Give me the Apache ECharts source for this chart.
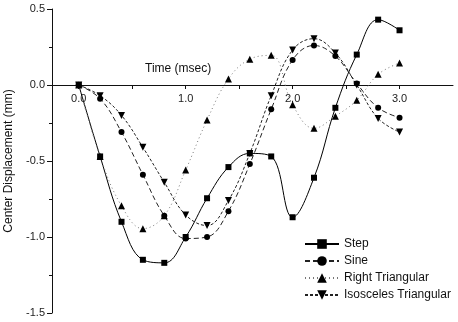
<!DOCTYPE html>
<html><head><meta charset="utf-8">
<script src="https://cdn.jsdelivr.net/npm/echarts@6/dist/echarts.min.js"></script>
<style>html,body{margin:0;padding:0;background:#fff}#c{width:458px;height:322px}</style>
</head><body><div id="c"></div>
<script>
const times = [0.0, 0.2, 0.4, 0.6, 0.8, 1.0, 1.2, 1.4, 1.6, 1.8, 2.0, 2.2, 2.4, 2.6, 2.8, 3.0];
const stepVals = [0, -0.47, -0.90, -1.15, -1.17, -1.0, -0.745, -0.54, -0.45, -0.47, -0.87, -0.61, -0.15, 0.20, 0.43, 0.36];
const sineVals = [0, -0.09, -0.31, -0.59, -0.86, -1.01, -1.0, -0.83, -0.52, -0.16, 0.165, 0.26, 0.19, 0.01, -0.15, -0.215];
const rightVals = [0, -0.47, -0.795, -0.945, -0.86, -0.56, -0.23, 0.04, 0.17, 0.195, -0.13, -0.285, -0.205, -0.10, 0.07, 0.145];
const isoVals = [0, -0.07, -0.20, -0.41, -0.64, -0.855, -0.925, -0.76, -0.45, -0.07, 0.23, 0.305, 0.21, 0.0, -0.22, -0.31];
const xLabelVals = [0, 1, 2, 3];
const xTickVals = [0, 0.5, 1, 1.5, 2, 2.5, 3];
const seriesNames = ['Step', 'Sine', 'Right Triangular', 'Isosceles Triangular'];

const pairs = vals => times.map((t, i) => [t, vals[i]]);
const font = 'Liberation Sans, Arial, sans-serif';
const chart = echarts.init(document.getElementById('c'), null, {renderer: 'canvas'});
function mk(name, vals, symbol, size, rotate, lineType, color, width) {
  return {
    name, type: 'line', data: pairs(vals), smooth: 0.4,
    symbol, symbolSize: size, symbolRotate: rotate, showSymbol: true,
    itemStyle: {color: '#000', borderWidth: 0},
    lineStyle: {color, width, type: lineType},
    emphasis: {disabled: true}, animation: false
  };
}
chart.setOption({
  animation: false,
  grid: {left: 52, right: 5, top: 9, bottom: 9, containLabel: false, outerBoundsMode: 'none'},
  xAxis: {
    type: 'value', min: -0.25, max: 3.5, position: 'bottom', offset: -228,
    axisLine: {onZero: false, lineStyle: {color: '#111', width: 1}},
    axisTick: {show: true, customValues: xTickVals, length: 4, inside: false, lineStyle: {color: '#111'}},
    axisLabel: {customValues: xLabelVals, formatter: v => v.toFixed(1), color: '#222', fontSize: 11, fontFamily: font, margin: 8},
    splitLine: {show: false}
  },
  yAxis: {
    type: 'value', min: -1.5, max: 0.5, interval: 0.5,
    axisLine: {show: true, onZero: false, lineStyle: {color: '#111', width: 1}},
    axisTick: {show: true, length: 5, inside: false, lineStyle: {color: '#111'}},
    minorTick: {show: true, splitNumber: 2, length: 3, lineStyle: {color: '#111'}},
    axisLabel: {formatter: v => v.toFixed(1), color: '#222', fontSize: 11, fontFamily: font, margin: 7},
    splitLine: {show: false},
    name: 'Center Displacement (mm)', nameLocation: 'middle', nameGap: 33,
    nameTextStyle: {fontSize: 12, fontFamily: font, color: '#111'}
  },
  legend: {
    orient: 'vertical', left: 299, top: 233, itemWidth: 34, itemHeight: 12, itemGap: 5,
    data: seriesNames,
    textStyle: {fontSize: 12, fontFamily: font, color: '#111'},
    selectedMode: false
  },
  graphic: [{type: 'text', left: 145, top: 63, style: {text: 'Time (msec)', font: '12px ' + font, fill: '#111'}}],
  series: [
    mk(seriesNames[0], stepVals, 'rect', 6, 0, 'solid', '#000', 1),
    mk(seriesNames[1], sineVals, 'circle', 6, 0, [5, 3], '#222', 1),
    mk(seriesNames[2], rightVals, 'triangle', 7, 0, [1, 3], '#777', 1),
    mk(seriesNames[3], isoVals, 'triangle', 7, 180, [3, 2], '#222', 1)
  ]
});
</script></body></html>
